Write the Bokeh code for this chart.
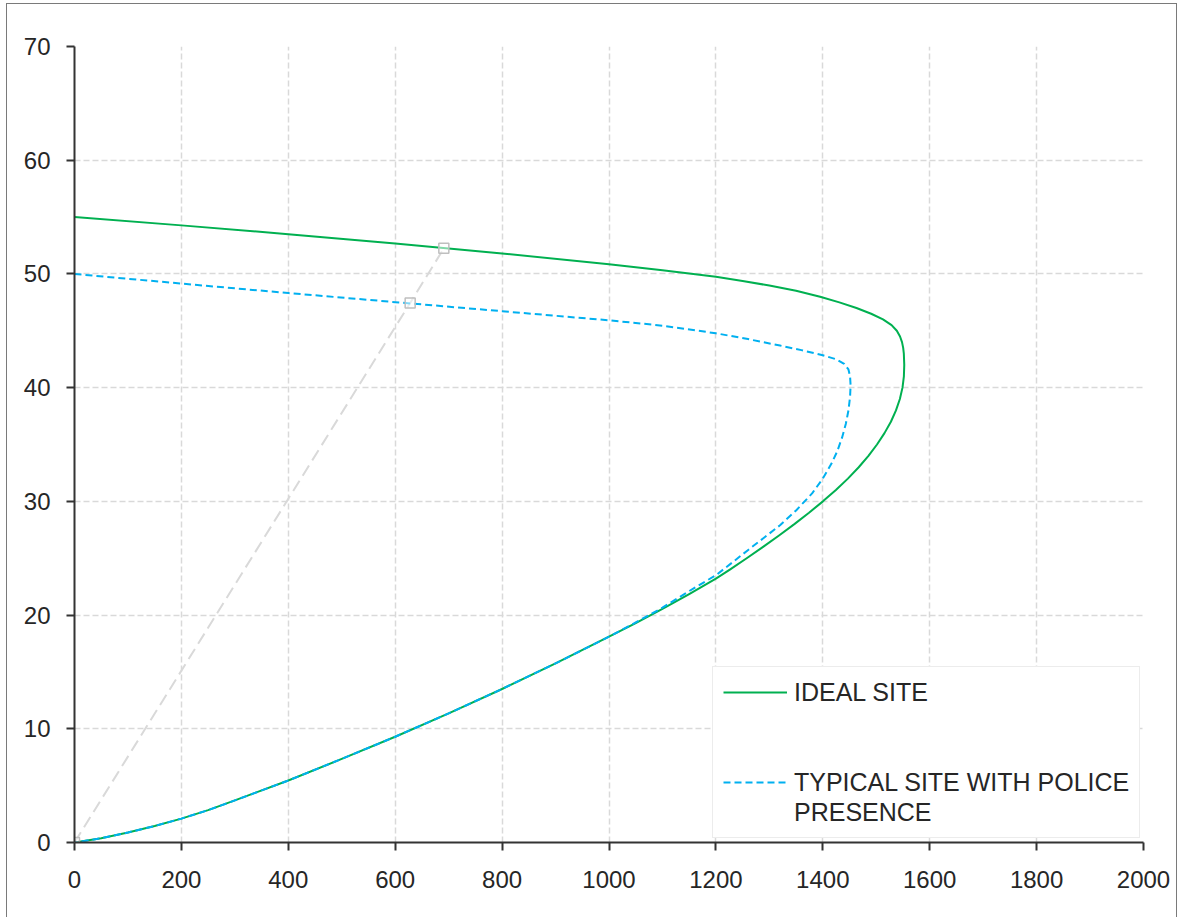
from bokeh.plotting import figure
from bokeh.models import Range1d, FixedTicker, Legend, LegendItem, InlineStyleSheet
from bokeh.embed import file_html
from bokeh.resources import INLINE

# ---- data (flow, speed) ----
ideal_flow = [0, 200, 400, 600, 800, 1000, 1100, 1200, 1250, 1300, 1350, 1395, 1431, 1463,
              1490.5, 1512.6, 1528.7, 1538.5, 1544.5, 1548.2, 1550.4, 1551.6, 1552.4, 1551.7,
              1549.1, 1544.2, 1536.9, 1527.4, 1515.4, 1501.4, 1485.4, 1467.2, 1446.9, 1424.5,
              1400.2, 1374.2, 1346.8, 1318.1, 1288.3, 1257.6, 1226.1, 1200, 1150, 1100, 1050,
              1000, 900, 800, 700, 600, 500, 400, 300, 250, 200, 150, 100, 50, 0]
ideal_speed = [55, 54.27, 53.5, 52.67, 51.8, 50.85, 50.33, 49.75, 49.38, 48.98, 48.52, 48.0, 47.5, 47.0,
               46.5, 46.0, 45.5, 45.0, 44.5, 44.0, 43.5, 43.0, 42.0, 41.0,
               40.0, 39.0, 38.0, 37.0, 36.0, 35.0, 34.0, 33.0, 32.0, 31.0,
               30.0, 29.0, 28.0, 27.0, 26.0, 25.0, 24.0, 23.2, 21.85, 20.55, 19.3,
               18.1, 15.75, 13.5, 11.35, 9.3, 7.35, 5.45, 3.7, 2.85, 2.1, 1.45, 0.88, 0.37, 0]

police_flow = [0, 200, 400, 600, 800, 1000, 1100, 1200, 1260, 1320, 1360, 1400, 1425, 1440,
               1448, 1451, 1452, 1451, 1448, 1443, 1436, 1427, 1416, 1400, 1380, 1350, 1320,
               1290, 1261, 1230, 1200, 1160, 1100, 1050, 1000, 900, 800, 700, 600, 500, 400,
               300, 250, 200, 150, 100, 50, 0]
police_speed = [50, 49.15, 48.32, 47.52, 46.72, 45.92, 45.45, 44.78, 44.27, 43.7, 43.3, 42.85, 42.5, 42.1,
                41.6, 41.0, 40.2, 39.2, 38.0, 36.8, 35.6, 34.4, 33.3, 32.0, 30.7, 29.2, 27.9,
                26.8, 25.75, 24.6, 23.5, 22.4, 20.65, 19.35, 18.1, 15.75, 13.5, 11.35, 9.3, 7.35, 5.45,
                3.7, 2.85, 2.1, 1.45, 0.88, 0.37, 0]

ray_flow = [0, 628, 691]
ray_speed = [0, 47.45, 52.25]

x_ticks = [0, 200, 400, 600, 800, 1000, 1200, 1400, 1600, 1800, 2000]
y_ticks = [0, 10, 20, 30, 40, 50, 60, 70]
series_labels = ["IDEAL SITE", "TYPICAL SITE WITH POLICE", "PRESENCE"]

TEXT = "#262626"
FONT = "Liberation Sans"

p = figure(width=1180, height=917, output_backend="svg", toolbar_location=None,
           x_range=Range1d(0, 2000), y_range=Range1d(0, 70),
           min_border_left=74, min_border_right=37, min_border_top=46, min_border_bottom=75)
p.title.visible = False
p.outline_line_color = None
p.background_fill_color = "white"
p.border_fill_color = "white"

# outer chart border (left, top, right edges; the bottom edge is outside the picture)
p.stylesheets = [InlineStyleSheet(css="""
:host { position: relative; }
:host::after { content: ''; position: absolute; left: 6px; top: 3px; right: 3px; bottom: 0;
  border: 1.5px solid #7a7a7a; border-bottom: none; pointer-events: none; z-index: 10; }
""")]

# grid
for g in (p.xgrid, p.ygrid):
    g.grid_line_color = "#d9d9d9"
    g.grid_line_dash = "6 3"
    g.grid_line_width = 1.5

# axes
p.xaxis.ticker = FixedTicker(ticks=x_ticks)
p.yaxis.ticker = FixedTicker(ticks=y_ticks)
for ax in (p.xaxis, p.yaxis):
    ax.axis_line_color = "#333333"
    ax.axis_line_width = 2
    ax.major_tick_line_color = "#333333"
    ax.major_tick_line_width = 2
    ax.major_tick_out = 8
    ax.major_tick_in = 0
    ax.minor_tick_line_color = None
    ax.major_label_text_font = FONT
    ax.major_label_text_font_size = "24px"
    ax.major_label_text_color = TEXT
p.yaxis.major_label_standoff = 16
p.xaxis.major_label_standoff = 20

# ray with markers
p.line(ray_flow, ray_speed, line_color="#d9d9d9", line_width=2, line_dash="12 6")

g_r = p.line(ideal_flow, ideal_speed, line_color="#00B050", line_width=2, line_join="round")
b_r = p.line(police_flow, police_speed, line_color="#00B0F0", line_width=2,
             line_dash="7 4", line_join="round")

p.scatter(ray_flow, ray_speed, marker="square", size=10, line_color="#bfbfbf",
          line_width=1.5, fill_color="white", fill_alpha=0.5)

items = [
    LegendItem(label=series_labels[0], renderers=[g_r]),
    LegendItem(label=" ", renderers=[]),
    LegendItem(label=" ", renderers=[]),
    LegendItem(label=series_labels[1], renderers=[b_r]),
    LegendItem(label=series_labels[2], renderers=[]),
]
legend = Legend(items=items, location=(638, 4), orientation="vertical", padding=10, spacing=0,
                label_height=30, glyph_height=30, glyph_width=64, label_standoff=7,
                label_text_font=FONT, label_text_font_size="25px", label_text_color=TEXT,
                border_line_color="#d9d9d9", border_line_width=1.5,
                background_fill_color="white", background_fill_alpha=1, margin=0)
p.add_layout(legend, "center")

open("out.html", "w").write(file_html(p, INLINE))
